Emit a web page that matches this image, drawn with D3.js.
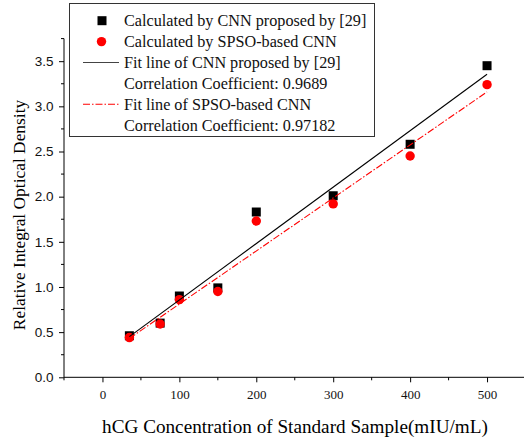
<!DOCTYPE html>
<html lang="en">
  <head>
    <meta charset="utf-8">
    <script type="text/javascript" src="https://d3js.org/d3.v7.min.js"></script>
    <title>hCG concentration vs optical density</title>
    <style>
      body { margin: 0; background: #fff; }
      .serif { font-family: "Liberation Serif", "DejaVu Serif", serif; }
      .sans { font-family: "Liberation Sans", Arial, sans-serif; }
    </style>
  </head>
  <body>
    <script type="text/javascript">

    // concentrations (mIU/mL)
    var conc = [35, 75, 100, 150, 200, 300, 400, 500];
    // relative integral optical density
    var cnnValues  = [0.46, 0.60, 0.90, 0.99, 1.83, 2.01, 2.58, 3.45];
    var spsoValues = [0.44, 0.59, 0.86, 0.95, 1.73, 1.92, 2.45, 3.24];
    // fit line endpoints
    var fitX    = [35, 500];
    var fitCnn  = [0.45, 3.355];
    var fitSpso = [0.43, 3.16];

    var xTicks = [0, 100, 200, 300, 400, 500];
    var xMinor = [-50, 50, 150, 250, 350, 450, 550];
    var yTicks = [0, 0.5, 1.0, 1.5, 2.0, 2.5, 3.0, 3.5];
    var yMinor = [0.25, 0.75, 1.25, 1.75, 2.25, 2.75, 3.25, 3.75];

    var legendItems = [
      {label: "Calculated by CNN proposed by [29]", kind: "square"},
      {label: "Calculated by SPSO-based CNN", kind: "circle"},
      {label: "Fit line of CNN proposed by [29]", kind: "line"},
      {label: "Correlation Coefficient: 0.9689", kind: "none"},
      {label: "Fit line of SPSO-based CNN", kind: "dash"},
      {label: "Correlation Coefficient: 0.97182", kind: "none"}
    ];

    var width = 524, height = 438;

    var svg = d3.select("body").append("svg")
      .attr("width", width)
      .attr("height", height);

    var x = d3.scaleLinear().domain([-50, 550]).range([64, 525.5]);
    var y = d3.scaleLinear().domain([0, 3.75]).range([377.3, 38.6]);

    // axes
    var xAxis = svg.append("g")
      .attr("transform", "translate(0," + y(0) + ")")
      .call(d3.axisBottom(x).tickValues(xTicks).tickSize(5).tickPadding(7).tickFormat(d3.format("d")));
    xAxis.select(".domain").attr("d", "M" + x(-50) + ",0H" + x(550));
    xAxis.selectAll("text").attr("class", "serif").style("font-size", "13px").attr("fill", "#111");

    xAxis.selectAll(".minor").data(xMinor).enter().append("line")
      .attr("class", "minor")
      .attr("x1", function(d){ return x(d); }).attr("x2", function(d){ return x(d); })
      .attr("y1", 0).attr("y2", 3)
      .attr("stroke", "#000");

    var yAxis = svg.append("g")
      .attr("transform", "translate(" + x(-50) + ",0)")
      .call(d3.axisLeft(y).tickValues(yTicks).tickSize(5).tickPadding(5.5).tickFormat(d3.format(".1f")));
    yAxis.select(".domain").attr("d", "M0," + y(0) + "V" + y(3.75));
    yAxis.selectAll("text").attr("class", "sans").style("font-size", "13.5px").attr("fill", "#111");

    yAxis.selectAll(".minor").data(yMinor).enter().append("line")
      .attr("class", "minor")
      .attr("y1", function(d){ return y(d); }).attr("y2", function(d){ return y(d); })
      .attr("x1", 0).attr("x2", -3)
      .attr("stroke", "#000");

    // axis titles
    svg.append("text")
      .attr("class", "serif")
      .attr("x", 295).attr("y", 433)
      .attr("text-anchor", "middle")
      .style("font-size", "19.2px")
      .text("hCG Concentration of Standard Sample(mIU/mL)");

    svg.append("text")
      .attr("class", "serif")
      .attr("transform", "translate(25,215) rotate(-90)")
      .attr("text-anchor", "middle")
      .style("font-size", "17.4px")
      .text("Relative Integral Optical Density");

    // markers
    svg.selectAll(".sq").data(conc).enter().append("rect")
      .attr("class", "sq")
      .attr("x", function(d){ return x(d) - 4.5; })
      .attr("y", function(d, i){ return y(cnnValues[i]) - 4.5; })
      .attr("width", 9).attr("height", 9)
      .attr("fill", "#000");

    svg.selectAll(".dot").data(conc).enter().append("circle")
      .attr("class", "dot")
      .attr("cx", function(d){ return x(d); })
      .attr("cy", function(d, i){ return y(spsoValues[i]); })
      .attr("r", 4.7)
      .attr("fill", "#ff0000");

    // fit lines
    var line = d3.line()
      .x(function(d){ return x(d[0]); })
      .y(function(d){ return y(d[1]); });

    svg.append("path")
      .datum(d3.zip(fitX, fitCnn))
      .attr("d", line)
      .attr("fill", "none")
      .attr("stroke", "#000")
      .attr("stroke-width", 1.1);

    svg.append("path")
      .datum(d3.zip(fitX, fitSpso))
      .attr("d", line)
      .attr("fill", "none")
      .attr("stroke", "#ff0000")
      .attr("stroke-width", 1.1)
      .attr("stroke-dasharray", "7,2,1.5,2");

    // legend
    var legend = svg.append("g");
    legend.append("rect")
      .attr("x", 69.5).attr("y", 3.5)
      .attr("width", 305).attr("height", 133)
      .attr("fill", "#fff")
      .attr("stroke", "#333")
      .attr("stroke-width", 1);

    var rows = legend.selectAll(".row").data(legendItems).enter().append("g")
      .attr("class", "row")
      .attr("transform", function(d, i){ return "translate(0," + (20.7 + i * 20.9) + ")"; });

    rows.append("text")
      .attr("class", "serif")
      .attr("x", 124)
      .attr("dy", "0.35em")
      .style("font-size", "16.2px")
      .attr("fill", "#111")
      .text(function(d){ return d.label; });

    rows.filter(function(d){ return d.kind == "square"; }).append("rect")
      .attr("x", 97.5).attr("y", -4.5).attr("width", 9).attr("height", 9).attr("fill", "#000");
    rows.filter(function(d){ return d.kind == "circle"; }).append("circle")
      .attr("cx", 101.5).attr("cy", 0).attr("r", 4.7).attr("fill", "#ff0000");
    rows.filter(function(d){ return d.kind == "line"; }).append("line")
      .attr("x1", 83).attr("x2", 119).attr("y1", 0).attr("y2", 0)
      .attr("stroke", "#444").attr("stroke-width", 1.1);
    rows.filter(function(d){ return d.kind == "dash"; }).append("line")
      .attr("x1", 83).attr("x2", 119).attr("y1", 0).attr("y2", 0)
      .attr("stroke", "#ff0000").attr("stroke-width", 1.1)
      .attr("stroke-dasharray", "7,2,1.5,2");

    </script>
  </body>
</html>
